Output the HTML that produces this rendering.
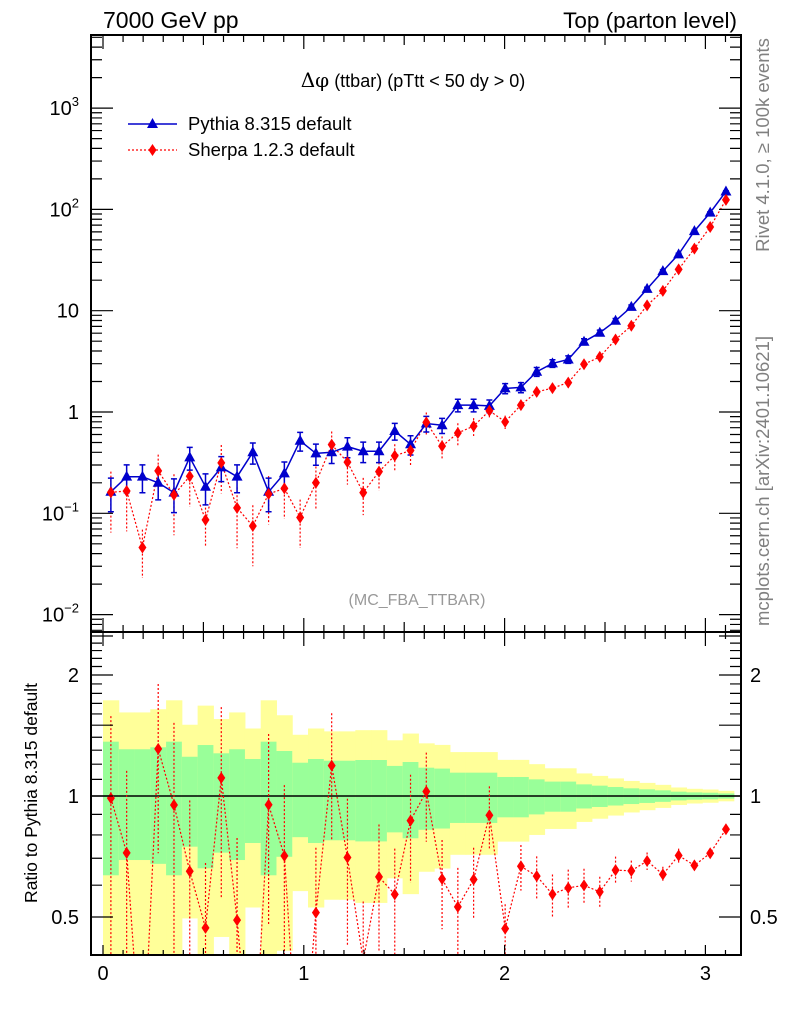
<!DOCTYPE html>
<html><head><meta charset="utf-8">
<style>
html,body{margin:0;padding:0;background:#fff;overflow:hidden;width:786px;height:1024px;}
svg{display:block;font-family:"Liberation Sans",Arial,sans-serif;}
</style></head>
<body>
<svg id="chart" width="786" height="1024" viewBox="0 0 786 1024" xmlns="http://www.w3.org/2000/svg">
<defs>
<clipPath id="clipMain"><rect x="91" y="35" width="650" height="597"/></clipPath>
<clipPath id="clipRatio"><rect x="91" y="632" width="650" height="323"/></clipPath>
</defs>
<rect x="0" y="0" width="786" height="1024" fill="#fff"/>
<g id="ratioBands" clip-path="url(#clipRatio)"></g>
<g id="mainMarks" clip-path="url(#clipMain)"></g>
<g id="ratioMarks" clip-path="url(#clipRatio)"></g>
<g id="axes"></g>
<text x="103" y="28" font-size="23">7000 GeV pp</text>
<text x="737" y="28" font-size="22.5" text-anchor="end">Top (parton level)</text>
<text x="413" y="87" font-size="18" text-anchor="middle"><tspan font-family="'DejaVu Serif',serif" font-size="20">Δφ</tspan> (ttbar) (pTtt &lt; 50 dy &gt; 0)</text>
<g>
<g>
<line x1="128" y1="124" x2="177" y2="124" stroke="#0000cc" stroke-width="1.5"/>
<path d="M152.5,118 L158,128 L147,128 Z" fill="#0000cc"/>
<text x="188" y="130" font-size="18.5">Pythia 8.315 default</text>
</g>
<g>
<line x1="128" y1="150" x2="177" y2="150" stroke="#ff0000" stroke-width="1.2" stroke-dasharray="2,2"/>
<path d="M152.5,144 L156.5,150 L152.5,156 L148.5,150 Z" fill="#ff0000"/>
<text x="188" y="156" font-size="18.5">Sherpa 1.2.3 default</text>
</g>
</g>
<text x="417" y="605" font-size="16" fill="#999" text-anchor="middle">(MC_FBA_TTBAR)</text>
<text transform="translate(769,145) rotate(-90)" font-size="18.5" fill="#808080" text-anchor="middle">Rivet 4.1.0, ≥ 100k events</text>
<text transform="translate(769,481) rotate(-90)" font-size="18.5" fill="#808080" text-anchor="middle">mcplots.cern.ch [arXiv:2401.10621]</text>
<text transform="translate(37,793) rotate(-90)" font-size="17.5" text-anchor="middle">Ratio to Pythia 8.315 default</text>
</svg>
<script>
// ---- data ----
const nBins = 40;
const xMin = 0;
const xMax = Math.PI;
const pythia = [0.163,0.23,0.23,0.20,0.16,0.357,0.183,0.284,0.23,0.40,0.163,0.248,0.52,0.39,0.40,0.455,0.41,0.41,0.65,0.48,0.77,0.74,1.17,1.17,1.15,1.71,1.75,2.5,3.02,3.3,4.94,6.06,7.95,10.9,16.4,24.6,36,61,93,150];
const pythiaRelErr = [0.365,0.307,0.307,0.322,0.365,0.252,0.339,0.277,0.307,0.236,0.365,0.294,0.21,0.236,0.224,0.224,0.229,0.229,0.188,0.215,0.176,0.17,0.143,0.143,0.143,0.115,0.115,0.10,0.086,0.086,0.069,0.061,0.053,0.045,0.039,0.033,0.025,0.021,0.019,0.015];
const sherpa = [0.161,0.166,0.046,0.262,0.152,0.232,0.086,0.315,0.113,0.075,0.155,0.176,0.091,0.2,0.476,0.32,0.16,0.258,0.37,0.417,0.79,0.46,0.62,0.725,1.03,0.80,1.17,1.58,1.72,1.95,2.96,3.5,5.2,7.1,11.3,15.7,25.6,41,67,124];
const sherpaRelErr = [0.6,0.6,0.5,0.45,0.6,0.5,0.45,0.5,0.6,0.6,0.5,0.5,0.5,0.45,0.35,0.4,0.4,0.35,0.3,0.3,0.25,0.25,0.25,0.2,0.18,0.15,0.13,0.12,0.12,0.11,0.1,0.09,0.08,0.06,0.05,0.045,0.04,0.03,0.025,0.02];
const xTickLabels = ["0","1","2","3"];
const mainYTickExps = [-2,-1,0,1,2,3];
const ratioTickLabels = ["0.5","1","2"];

// ---- axes functions ----
const NS = "http://www.w3.org/2000/svg";
const L = 91, R = 741, MT = 35, MB = 632, RB = 955;
function xs(v){ return 103 + 200.8 * v; }
function ym(v){ return 412 - 101.3 * Math.log10(v); }
function yr(v){ return 796 - 402 * Math.log10(v); }
const bw = (xMax - xMin) / nBins;
function mk(tag, attrs, parent){
  const e = document.createElementNS(NS, tag);
  for (const k in attrs) e.setAttribute(k, attrs[k]);
  parent.appendChild(e);
  return e;
}
const axes = document.getElementById('axes');
const mainG = document.getElementById('mainMarks');
const ratioG = document.getElementById('ratioMarks');
const bandG = document.getElementById('ratioBands');

for (let i = 0; i < nBins; i++) {
  const x0 = xs(xMin + i*bw), x1 = xs(xMin + (i+1)*bw);
  const e = pythiaRelErr[i];
  const ylo = Math.max(1 - 2*e, 0.01);
  const y = mk('rect', {x: x0, y: yr(1+2*e), width: x1-x0+0.5, height: yr(ylo)-yr(1+2*e), fill: '#ffff99'}, bandG);
  
  
  const glo = Math.max(1 - e, 0.01);
  const g = mk('rect', {x: x0, y: yr(1+e), width: x1-x0+0.5, height: yr(glo)-yr(1+e), fill: '#99ff99'}, bandG);
  
  
}
const one = mk('line', {x1: L, x2: R, y1: yr(1), y2: yr(1), stroke: '#000', 'stroke-width': 1.5}, ratioG);



function centers(i){ return xs(xMin + (i+0.5)*bw); }
let pb = '', sb = '';
for (let i = 0; i < nBins; i++) {
  pb += (i ? 'L' : 'M') + centers(i).toFixed(1) + ',' + ym(pythia[i]).toFixed(1);
  sb += (i ? 'L' : 'M') + centers(i).toFixed(1) + ',' + ym(sherpa[i]).toFixed(1);
}
const sLine = mk('path', {d: sb, fill: 'none', stroke: '#ff0000', 'stroke-width': 1.2, 'stroke-dasharray': '2,2'}, mainG);


const pLine = mk('path', {d: pb, fill: 'none', stroke: '#0000cc', 'stroke-width': 1.5}, mainG);


for (let i = 0; i < nBins; i++) {
  const cx = centers(i);
  const sv = sherpa[i], se = sherpaRelErr[i];
  const sErr = mk('line', {x1: cx, x2: cx, y1: ym(sv*(1+se)), y2: ym(Math.max(sv*(1-se), 1e-4)), stroke: '#ff0000', 'stroke-width': 1.2, 'stroke-dasharray': '2,2'}, mainG);
  
  
  const pv = pythia[i], pe = pythiaRelErr[i];
  const pErr = mk('path', {d: `M${cx},${ym(pv*(1+pe))}L${cx},${ym(pv*(1-pe))}M${cx-3},${ym(pv*(1+pe))}h6M${cx-3},${ym(pv*(1-pe))}h6`, stroke: '#0000cc', 'stroke-width': 1.5, fill: 'none'}, mainG);
  
  
  const py = ym(pv);
  const tri = mk('path', {d: `M${cx},${py-6}L${cx+5.5},${py+4}L${cx-5.5},${py+4}Z`, fill: '#0000cc'}, mainG);
  
  
  const sy = ym(sv);
  const dia = mk('path', {d: `M${cx},${sy-6}L${cx+4},${sy}L${cx},${sy+6}L${cx-4},${sy}Z`, fill: '#ff0000'}, mainG);
  
  
}
let rb = '';
for (let i = 0; i < nBins; i++) {
  rb += (i ? 'L' : 'M') + centers(i).toFixed(1) + ',' + yr(sherpa[i]/pythia[i]).toFixed(1);
}
const rLine = mk('path', {d: rb, fill: 'none', stroke: '#ff0000', 'stroke-width': 1.2, 'stroke-dasharray': '2,2'}, ratioG);


for (let i = 0; i < nBins; i++) {
  const cx = centers(i);
  const r = sherpa[i]/pythia[i], se = sherpaRelErr[i];
  const re = mk('line', {x1: cx, x2: cx, y1: yr(r*(1+se)), y2: yr(Math.max(r*(1-se), 1e-3)), stroke: '#ff0000', 'stroke-width': 1.2, 'stroke-dasharray': '2,2'}, ratioG);
  
  
  const y = yr(r);
  const d = mk('path', {d: `M${cx},${y-6}L${cx+4},${y}L${cx},${y+6}L${cx-4},${y}Z`, fill: '#ff0000'}, ratioG);
  
  
}

const f1 = mk('rect', {x: L, y: MT, width: R-L, height: MB-MT, fill: 'none', stroke: '#000', 'stroke-width': 2}, axes);


const f2 = mk('rect', {x: L, y: MB, width: R-L, height: RB-MB, fill: 'none', stroke: '#000', 'stroke-width': 2}, axes);



let tk = '';
for (let k = 0; k <= 32; k++) {
  const v = k * 0.1, x = xs(v);
  if (x > R) break;
  const len = (k % 10 === 0) ? 14 : (k % 5 === 0 ? 10 : 7);
  const lenB = (k % 10 === 0) ? 10 : (k % 5 === 0 ? 7 : 5);
  tk += `M${x},${MT}v${len}M${x},${MB}v${-len}M${x},${MB}v${len}M${x},${RB}v${-lenB}`;
}
for (let e = -3; e <= 3; e++) {
  for (let m = 1; m <= 9; m++) {
    const v = m * Math.pow(10, e), y = ym(v);
    if (y < MT || y > MB) continue;
    const len = m === 1 ? 22 : 11;
    tk += `M${L},${y}h${len}M${R},${y}h${-len}`;
  }
}
for (let k = 4; k <= 25; k++) {
  const v = k / 10, y = yr(v);
  if (y < MB || y > RB) continue;
  const len = (k % 5 === 0) ? 22 : 11;
  tk += `M${L},${y}h${len}M${R},${y}h${-len}`;
}
const ticks = mk('path', {d: tk, stroke: '#000', 'stroke-width': 1.2, fill: 'none'}, axes);



xTickLabels.forEach(function(lbl){
  const t = mk('text', {x: xs(parseFloat(lbl)), y: 980, 'font-size': 20, 'text-anchor': 'middle'}, axes);
  t.textContent = lbl;
  
  
});
mainYTickExps.forEach(function(e){
  const y = ym(Math.pow(10, e));
  const t = mk('text', {x: 79, y: y + 7, 'font-size': 20, 'text-anchor': 'end'}, axes);
  if (e === 0) t.textContent = '1';
  else if (e === 1) t.textContent = '10';
  else {
    t.textContent = '10';
    const s = mk('tspan', {dy: -9, 'font-size': 13}, t);
    s.textContent = String(e).replace('-', '−');
  }
  
  
});
ratioTickLabels.forEach(function(lbl){
  const y = yr(parseFloat(lbl));
  const t1 = mk('text', {x: 79, y: y + 7, 'font-size': 20, 'text-anchor': 'end'}, axes);
  t1.textContent = lbl;
  
  
  const t2 = mk('text', {x: 750, y: y + 7, 'font-size': 20}, axes);
  t2.textContent = lbl;
  
  
});
</script>
</body></html>
